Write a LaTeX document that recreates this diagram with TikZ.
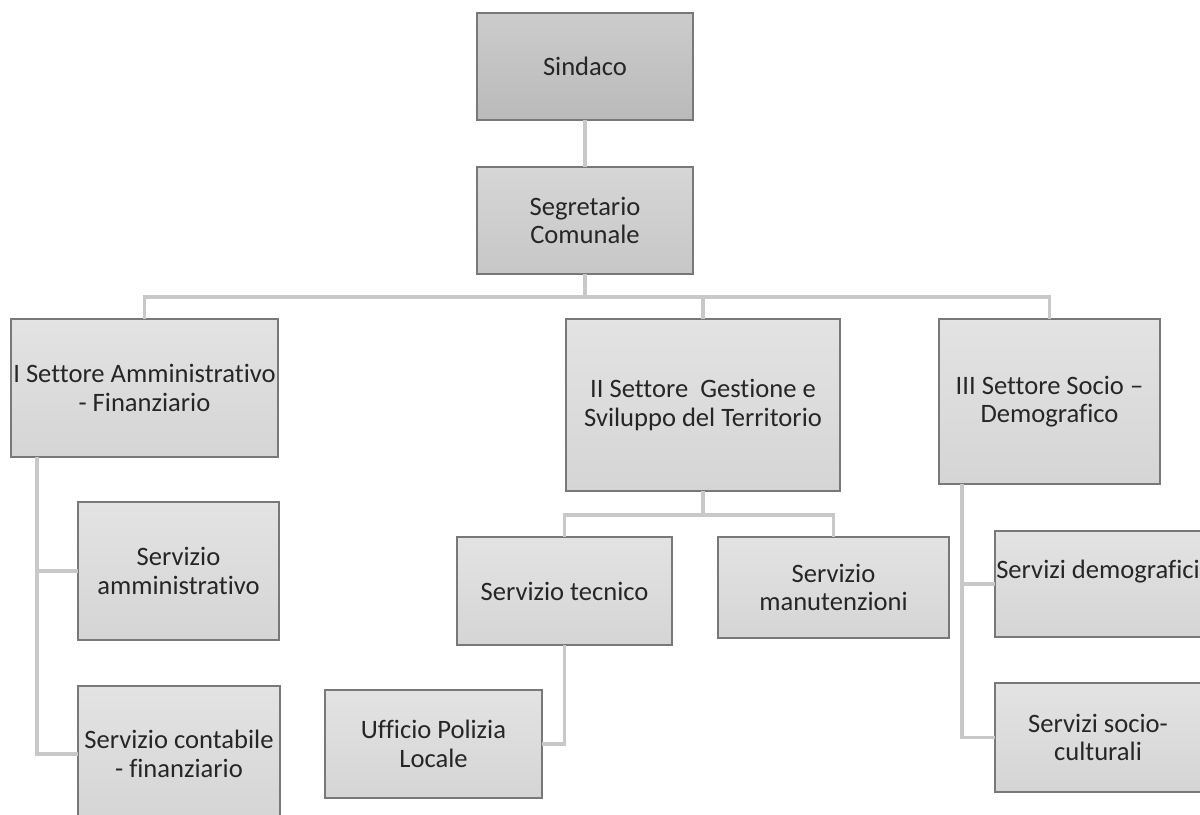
\documentclass[tikz,border=0pt]{standalone}
\usepackage{fontspec}
\setmainfont[Ligatures={NoCommon,NoRequired,NoContextual}]{Carlito}
\definecolor{linkgray}{RGB}{200,200,200}
\definecolor{edgegray}{RGB}{120,120,120}
\definecolor{inkgray}{RGB}{38,38,38}
\begin{document}
\begin{tikzpicture}[x=0.025cm,y=-0.025cm,
    box/.style={rectangle,draw=edgegray,line width=0.8pt,inner sep=0pt,outer sep=0pt,align=center,
        text=inkgray,font=\fontsize{18.9pt}{20.4pt}\selectfont,top color=gray!22,bottom color=gray!33},
    top box/.style={box,top color=gray!40,bottom color=gray!54},
    mid box/.style={box,top color=gray!32,bottom color=gray!44},
    link/.style={draw=linkgray,line width=2.2pt}]
    \useasboundingbox (0,0) rectangle (1200,814);

    \node[top box,minimum width=5.4cm,minimum height=2.675cm] (sindaco) at (585,66.5) {Sindaco};
    \node[mid box,minimum width=5.4cm,minimum height=2.675cm] (segretario) at (585,220.5) {Segretario\\Comunale};

    \node[box,minimum width=6.675cm,minimum height=3.45cm] (settI) at (144.5,388) {I Settore Amministrativo\\- Finanziario};
    \node[box,minimum width=6.85cm,minimum height=4.3cm] (settII) at (703,405) {II Settore~ Gestione e\\Sviluppo del Territorio};
    \node[box,minimum width=5.525cm,minimum height=4.125cm] (settIII) at (1049.5,401.5) {III Settore Socio --\\Demografico};

    \node[box,minimum width=5.025cm,minimum height=3.45cm] (servAmm) at (178.5,571) {Servizio\\amministrativo};
    \node[box,minimum width=5.05cm,minimum height=3.4cm] (servCont) at (179,754) {Servizio contabile\\- finanziario};
    \node[box,minimum width=5.375cm,minimum height=2.7cm] (servTec) at (564.5,591) {Servizio tecnico};
    \node[box,minimum width=5.775cm,minimum height=2.525cm] (servMan) at (833.5,587.5) {Servizio\\manutenzioni};
    \node[box,minimum width=5.425cm,minimum height=2.7cm] (uffPol) at (433.5,744) {Ufficio Polizia\\Locale};
    \node[box,minimum width=5.15cm,minimum height=2.65cm] (servDem) at (1098,584) {Servizi demografici\\~};
    \node[box,minimum width=5.15cm,minimum height=2.725cm] (servSoc) at (1098,737.5) {Servizi socio-\\culturali};

    \coordinate (bus) at (585,297);
    \coordinate (busII) at (703,515);
    \coordinate (trunkI) at (37,457);
    \coordinate (trunkIII) at (962,484);

    \draw[link] (sindaco) -- (segretario);
    \draw[link] (segretario) -- (bus);
    \draw[link] (bus) -| (settI.north);
    \draw[link] (bus) -| (settII.north);
    \draw[link] (bus) -| (settIII.north);
    \draw[link] (trunkI) |- (servAmm.west);
    \draw[link] (trunkI) |- (servCont.west);
    \draw[link] (settII) -- (busII);
    \draw[link] (busII) -| (servTec.north);
    \draw[link] (busII) -| (servMan.north);
    \draw[link] (servTec) |- (uffPol.east);
    \draw[link] (trunkIII) |- (servDem.west);
    \draw[link] (trunkIII) |- (servSoc.west);
\end{tikzpicture}
\end{document}
